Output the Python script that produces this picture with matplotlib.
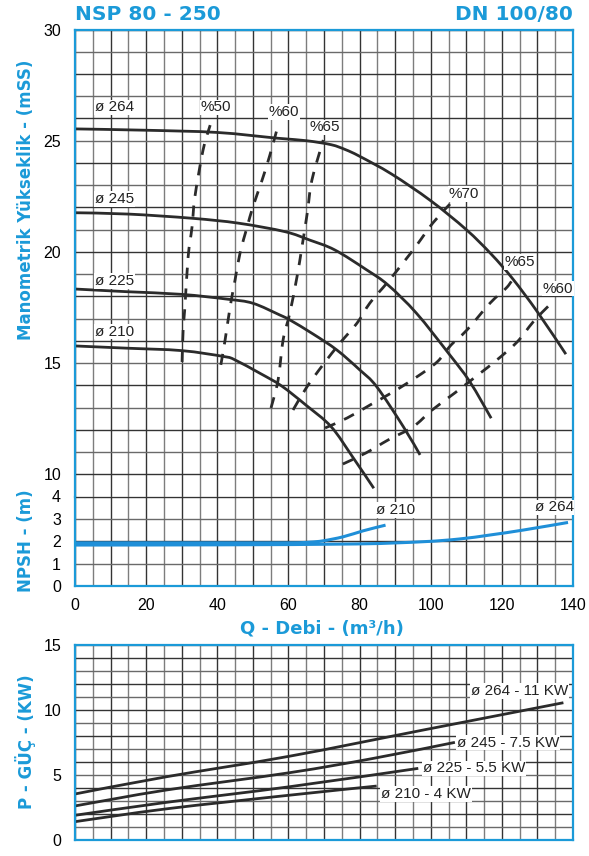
import numpy as np
import matplotlib
matplotlib.use('Agg')
import matplotlib.pyplot as plt
from matplotlib.path import Path
from matplotlib.patches import PathPatch

BLUE = '#1b9ad8'
INK = '#2b2b2b'
NARROW = ['Liberation Sans Narrow', 'Liberation Sans', 'DejaVu Sans']

# Q-H curves for each impeller diameter (Q in m3/h, H in mSS)
q_264 = [0, 20, 40, 57, 65, 72, 76, 80, 89, 100, 110, 117, 123, 130, 138]
h_264 = [25.53, 25.47, 25.37, 25.11, 25.0, 24.82, 24.6, 24.3, 23.5, 22.3, 21.0, 19.9, 18.8, 17.3, 15.4]
q_245 = [0, 15, 33, 46, 59, 66, 73, 82, 88, 96, 105, 111, 117]
h_245 = [21.76, 21.7, 21.51, 21.29, 20.91, 20.53, 20.09, 19.19, 18.51, 17.24, 15.44, 14.16, 12.52]
q_225 = [0, 14.5, 30, 43, 50, 57.6, 60.4, 67, 73.6, 80, 84.8, 92.3, 97]
h_225 = [18.33, 18.21, 18.09, 17.87, 17.69, 17.16, 16.94, 16.3, 15.59, 14.7, 13.94, 12.14, 10.87]
q_210 = [0, 14.5, 30, 42, 45, 52, 58, 65, 72, 78, 84]
h_210 = [15.77, 15.67, 15.56, 15.29, 15.14, 14.54, 13.98, 13.1, 12.14, 10.79, 9.37]

# iso-efficiency lines
q_eff50 = [30.1, 30.4, 30.9, 31.8, 32.9, 33.7, 36.0, 38.0]
h_eff50 = [15.05, 16.49, 17.52, 19.77, 21.12, 22.47, 24.58, 25.7]
q_eff60a = [41.0, 42.2, 43.6, 45.0, 46.4, 48.4, 50.0, 52.6, 54.8, 57.1]
h_eff60a = [14.92, 16.04, 17.52, 18.74, 19.95, 21.12, 22.02, 23.23, 24.36, 25.7]
q_eff65a = [55.1, 57.1, 58.5, 60.4, 62.4, 63.8, 65.3, 66.6, 69.8]
h_eff65a = [12.98, 14.24, 16.04, 17.25, 18.87, 20.22, 21.75, 23.23, 25.03]
q_eff70 = [61.3, 65.2, 69.7, 74.5, 79.3, 82.9, 87.7, 92.2, 96.1, 100.6, 105.4]
h_eff70 = [12.89, 13.93, 14.92, 15.9, 16.8, 17.7, 18.6, 19.5, 20.31, 21.3, 22.15]
q_eff65b = [70.3, 76.5, 83.0, 89.4, 96.1, 101.8, 105.7, 110.2, 116.7, 121.5, 123.7]
h_eff65b = [12.08, 12.53, 13.12, 13.7, 14.38, 15.05, 15.81, 16.49, 17.7, 18.42, 18.96]
q_eff60b = [75.3, 81.8, 88.0, 95.0, 100.4, 106.8, 113.3, 118.6, 124.3, 128.8, 133.0]
h_eff60b = [10.46, 10.96, 11.54, 12.13, 12.89, 13.66, 14.47, 15.14, 15.95, 16.85, 17.55]

# NPSH curves
q_npsh210 = [0, 40, 60.4, 66, 69.8, 75.4, 81.1, 87.3]
n_npsh210 = [1.93, 1.93, 1.93, 1.96, 2.02, 2.2, 2.47, 2.72]
q_npsh264 = [0, 40, 79.2, 97.9, 108, 116.7, 126, 138.6]
n_npsh264 = [1.83, 1.84, 1.88, 1.98, 2.1, 2.28, 2.5, 2.84]

# shaft power curves (KW)
q_p264 = [0, 25.8, 60.4, 97.9, 137.3]
p_p264 = [3.54, 4.87, 6.45, 8.46, 10.56]
q_p245 = [0, 25.8, 60.4, 83.9, 106.8]
p_p245 = [2.62, 3.85, 5.18, 6.28, 7.51]
q_p225 = [0, 25.8, 60.4, 96.5]
p_p225 = [1.9, 2.9, 4.1, 5.51]
q_p210 = [0, 25.8, 60.4, 84.8]
p_p210 = [1.41, 2.4, 3.45, 4.15]

fig = plt.figure(figsize=(5.89, 8.56), dpi=100)
L, W = 75 / 589, 498 / 589
ax_h = fig.add_axes([L, 1 - 496.5 / 856, W, 467 / 856])
ax_n = fig.add_axes([L, 1 - 586 / 856, W, 89.5 / 856])
ax_p = fig.add_axes([L, 1 - 840 / 856, W, 195 / 856])


def grid(ax, y0, y1):
    xs = np.arange(0, 141, 5)
    cols = ['#333333' if x % 10 == 0 else '#7d7d7d' for x in xs]
    ax.vlines(xs, y0, y1, colors=cols, lw=1.0, zorder=1)
    ys = np.arange(y0, y1 + 1, 1)
    cols = ['#333333' if y % 2 == 0 else '#6a6a6a' for y in ys]
    ax.hlines(ys, 0, 140, colors=cols, lw=1.0, zorder=1)
    ax.set_xlim(0, 140)
    ax.set_ylim(y0, y1)
    for s in ax.spines.values():
        s.set_color(BLUE)
        s.set_linewidth(1.6)
        s.set_zorder(5)
    ax.tick_params(length=0, pad=10)


def curve(ax, x, y, color=INK, lw=2.0, dashed=False):
    # smooth curve through the read points (Catmull-Rom as cubic Beziers)
    pts = np.column_stack([x, y]).astype(float)
    verts, codes = [pts[0]], [Path.MOVETO]
    n = len(pts)
    for i in range(n - 1):
        p0 = pts[max(i - 1, 0)]
        p1, p2 = pts[i], pts[i + 1]
        p3 = pts[min(i + 2, n - 1)]
        verts += [p1 + (p2 - p0) / 6, p2 - (p3 - p1) / 6, p2]
        codes += [Path.CURVE4] * 3
    ls = (0, (4, 3.5)) if dashed else '-'
    ax.add_patch(PathPatch(Path(verts, codes), fill=False, edgecolor=color,
                           lw=lw, linestyle=ls, capstyle='butt', zorder=3))


grid(ax_h, 9, 30)
grid(ax_n, 0, 4)
grid(ax_p, 0, 15)
ax_h.spines['bottom'].set_visible(False)
ax_n.spines['top'].set_visible(False)

ax_h.set_xticks([])
ax_h.set_yticks([10, 15, 20, 25, 30])
ax_n.set_xticks(range(0, 141, 20))
ax_n.set_yticks([0, 1, 2, 3, 4])
ax_p.set_xticks([])
ax_p.set_yticks([0, 5, 10, 15])
for ax in (ax_h, ax_n, ax_p):
    for lab in ax.get_xticklabels() + ax.get_yticklabels():
        lab.set_family(NARROW)
        lab.set_fontsize(11.5)
ax_n.tick_params(axis='x', pad=9)

txt = dict(family=NARROW, fontsize=11, color='#222222', zorder=6,
           bbox=dict(facecolor='white', edgecolor='none', pad=0.5))

# head curves
for q, h in [(q_264, h_264), (q_245, h_245), (q_225, h_225), (q_210, h_210)]:
    curve(ax_h, q, h)
for y, name in [(26.5, 'ø 264'), (22.37, 'ø 245'), (18.7, 'ø 225'), (16.41, 'ø 210')]:
    ax_h.text(5.6, y, name, ha='left', va='center', **txt)

# efficiency lines
for q, h in [(q_eff50, h_eff50), (q_eff60a, h_eff60a), (q_eff65a, h_eff65a),
             (q_eff70, h_eff70), (q_eff65b, h_eff65b), (q_eff60b, h_eff60b)]:
    curve(ax_h, q, h, dashed=True)

for x, y, s in [(39.6, 26.5, '%50'), (58.8, 26.3, '%60'), (70.3, 25.6, '%65'),
                (109.4, 22.6, '%70'), (125.1, 19.55, '%65'), (135.8, 18.35, '%60')]:
    ax_h.text(x, y, s, ha='center', va='center', **txt)

# NPSH
curve(ax_n, q_npsh210, n_npsh210, color='#1f8fd8', lw=2.2)
curve(ax_n, q_npsh264, n_npsh264, color='#1f8fd8', lw=2.2)
ax_n.text(90.2, 3.39, 'ø 210', ha='center', va='center', **txt)
ax_n.text(134.7, 3.51, 'ø 264', ha='center', va='center', **txt)

# power
for q, p in [(q_p264, p_p264), (q_p245, p_p245), (q_p225, p_p225), (q_p210, p_p210)]:
    curve(ax_p, q, p)
ax_p.text(138.6, 11.46, 'ø 264 - 11 KW', ha='right', va='center', **txt)
ax_p.text(107.3, 7.49, 'ø 245 - 7.5 KW', ha='left', va='center', **txt)
ax_p.text(97.7, 5.51, 'ø 225 - 5.5 KW', ha='left', va='center', **txt)
ax_p.text(86.0, 3.54, 'ø 210 - 4 KW', ha='left', va='center', **txt)

# titles and axis labels
bold = dict(color=BLUE, fontweight='bold', family='DejaVu Sans')
fig.text(75 / 589, 1 - 14 / 856, 'NSP 80 - 250', ha='left', va='center', fontsize=14.5, **bold)
fig.text(573 / 589, 1 - 14 / 856, 'DN 100/80', ha='right', va='center', fontsize=14.5, **bold)
fig.text(26 / 589, 1 - 200 / 856, 'Manometrik Yükseklik - (mSS)', rotation=90,
         ha='center', va='center', fontsize=12, **bold)
fig.text(26 / 589, 1 - 541 / 856, 'NPSH - (m)', rotation=90,
         ha='center', va='center', fontsize=12, **bold)
fig.text(26 / 589, 1 - 742 / 856, 'P - GÜÇ - (KW)', rotation=90,
         ha='center', va='center', fontsize=12, **bold)
fig.text(322 / 589, 1 - 628 / 856, 'Q - Debi - (m³/h)', ha='center', va='center',
         fontsize=13, **bold)

fig.savefig('out.png', dpi=100)
